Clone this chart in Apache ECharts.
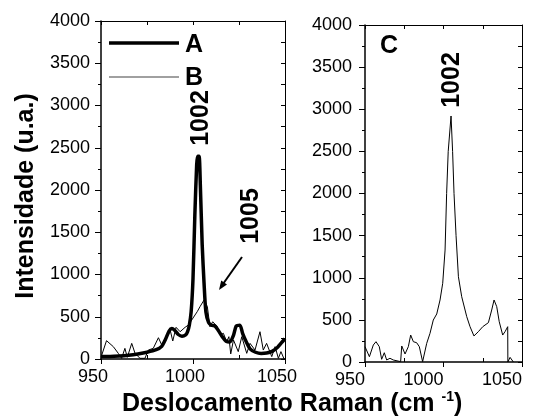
<!DOCTYPE html>
<html>
<head>
<meta charset="utf-8">
<script src="https://cdn.jsdelivr.net/npm/echarts@6/dist/echarts.min.js"></script>
<style>
  html, body { margin: 0; padding: 0; background: #fff; }
  #chart { width: 542px; height: 419px; }
</style>
</head>
<body>
<div id="chart"></div>
<script>
// Raman shift (cm-1) and intensity
const shiftA = [950, 955, 960, 965, 970, 975, 980, 983, 985, 987, 988.5, 990, 992, 994, 996,
  997, 998, 999, 1000, 1001, 1002, 1002.5, 1003.3, 1004, 1005, 1006, 1007, 1008.5,
  1010, 1012, 1014, 1016, 1018, 1020, 1022, 1023.5, 1025.5, 1027, 1029, 1031, 1034,
  1037, 1040, 1043, 1046, 1048, 1050]
const intensA = [30, 30, 35, 45, 60, 80, 110, 150, 230, 330, 360, 340, 290, 270, 285,
  320, 400, 560, 950, 1700, 2300, 2400, 2400, 2050, 1350, 900, 560, 430,
  400, 390, 330, 260, 210, 200, 280, 390, 400, 300, 200, 120, 80,
  65, 70, 90, 140, 190, 240]

const shiftB = [950, 953, 956.7, 959.4, 961.2, 963, 964.3, 966.7, 968.5, 971.2, 973.9, 975.7,
  978.4, 981.2, 983, 984.8, 987.5, 989, 990.8, 993, 995.7, 997.5, 999.3, 1001.1, 1002.3,
  1003.8, 1006, 1007.8, 1009.2, 1010.7, 1012.9, 1014.7, 1016.5, 1018.3, 1019.5, 1020.5,
  1022, 1024.6, 1026.5, 1029.2, 1031, 1033.7, 1036.4, 1038.2, 1040, 1042.8, 1044.6,
  1046.4, 1047.8, 1049.5, 1050]
const intensB = [20, 217, 146, 67, 8, 126, 20, 185, 67, 8, 8, 106,
  126, 252, 166, 245, 351, 213, 375, 323, 375, 402, 461, 521, 560,
  619, 698, 619, 382, 441, 390, 284, 304, 205, 264, 60,
  225, 87, 264, 67, 185, 106, 323, 106, 185, 28, 146,
  8, 87, 0, 0]

const shiftC = [950, 952.8, 955.3, 957, 959.1, 960.6, 962.3, 963.8, 965.9, 968, 969.1, 972.7,
  973.4, 975.5, 977.6, 979.1, 980.8, 982.9, 984.6, 986.7, 989.3, 991.4, 993.5, 995.7,
  997.8, 999.5, 1001, 1002, 1003, 1004.8, 1005.8, 1006.7, 1008, 1009.5, 1011.6, 1014.8,
  1016.9, 1019.4, 1022.2, 1025, 1028.6, 1030.7, 1032.2, 1033.9, 1035.5, 1037.7, 1039.2,
  1040.9, 1041, 1042.4, 1044.5]
const intensC = [182, 63, 202, 241, 182, 32, 110, 24, 44, 24, 4, 4,
  190, 95, 182, 320, 241, 229, 182, 4, 221, 340, 498, 570,
  736, 934, 1329, 2000, 2500, 2920, 2500, 2000, 1500, 1012, 775, 538,
  419, 309, 360, 419, 467, 617, 736, 657, 478, 320, 360,
  419, 0, 55, 0]

const FONT = 'Liberation Sans'
const plain = v => String(v)

function zip(xs, ys) {
  return xs.map((x, i) => [x, ys[i]])
}

// bottom axis with labels + major ticks outside
function bottomAxis(grid, labelPad, align) {
  return {
    type: 'value', gridIndex: grid, position: 'bottom',
    min: 950, max: 1050, interval: 50,
    axisLine: { lineStyle: { color: '#000', width: 1.5 } },
    axisTick: { inside: false, length: 5, lineStyle: { color: '#000' } },
    axisLabel: { color: '#000', fontFamily: FONT, fontSize: 18, margin: 9, padding: labelPad, align: align, formatter: plain },
    splitLine: { show: false }
  }
}
// minor ticks inside on the bottom
function bottomMinor(grid) {
  return {
    type: 'value', gridIndex: grid, position: 'bottom',
    min: 950, max: 1050, interval: 25,
    axisLine: { show: false },
    axisTick: { inside: true, length: 4, customValues: [975, 1025], lineStyle: { color: '#000' } },
    axisLabel: { show: false },
    splitLine: { show: false }
  }
}
function topAxis(grid) {
  return {
    type: 'value', gridIndex: grid, position: 'top',
    min: 950, max: 1050, interval: 25,
    axisLine: { lineStyle: { color: '#000', width: 1 } },
    axisTick: { inside: true, length: 4, lineStyle: { color: '#000' } },
    axisLabel: { show: false },
    splitLine: { show: false }
  }
}
function leftAxis(grid, margin) {
  return {
    type: 'value', gridIndex: grid, position: 'left',
    min: 0, max: 4000, interval: 500,
    axisLine: { show: true, lineStyle: { color: '#000', width: 1.5 } },
    axisTick: { show: true, inside: false, length: 6, lineStyle: { color: '#000' } },
    minorTick: { show: true, splitNumber: 2, length: 3, lineStyle: { color: '#000' } },
    axisLabel: { color: '#000', fontFamily: FONT, fontSize: 18, margin: margin, formatter: plain },
    splitLine: { show: false }
  }
}
function rightAxis(grid) {
  return {
    type: 'value', gridIndex: grid, position: 'right',
    min: 0, max: 4000, interval: 250,
    axisLine: { show: true, lineStyle: { color: '#000', width: 1 } },
    axisTick: { show: true, inside: true, length: 4, lineStyle: { color: '#000' } },
    axisLabel: { show: false },
    splitLine: { show: false }
  }
}

const chart = echarts.init(document.getElementById('chart'))

const boldText = (text, x, y, size, rot) => ({
  type: 'text', x: x, y: y, rotation: rot || 0,
  style: {
    text: text, fill: '#000', font: 'bold ' + size + 'px ' + FONT,
    align: 'center', verticalAlign: 'middle'
  }
})

chart.setOption({
  animation: false,
  backgroundColor: '#fff',
  grid: [
    { left: 101, top: 21, width: 184, height: 338 },
    { left: 365, top: 25, width: 157, height: 337 }
  ],
  xAxis: [
    bottomAxis(0, [0, 16, 0, 0], 'center'),
    bottomMinor(0),
    topAxis(0),
    bottomAxis(1, [0, 0, 0, 0], 'right'),
    bottomMinor(1),
    topAxis(1)
  ],
  yAxis: [
    leftAxis(0, 11),
    rightAxis(0),
    leftAxis(1, 13),
    rightAxis(1)
  ],
  series: [
    {
      name: 'A', type: 'line', xAxisIndex: 0, yAxisIndex: 0,
      data: zip(shiftA, intensA), showSymbol: false, smooth: 0.25,
      lineStyle: { color: '#000', width: 3.5 }
    },
    {
      name: 'B', type: 'line', xAxisIndex: 0, yAxisIndex: 0,
      data: zip(shiftB, intensB), showSymbol: false,
      lineStyle: { color: '#000', width: 1 }
    },
    {
      name: 'C', type: 'line', xAxisIndex: 3, yAxisIndex: 2,
      data: zip(shiftC, intensC), showSymbol: false,
      lineStyle: { color: '#000', width: 1 }
    }
  ],
  graphic: [
    // legend
    { type: 'line', shape: { x1: 109, y1: 43, x2: 179, y2: 43 }, style: { stroke: '#000', lineWidth: 3.5 } },
    { type: 'line', shape: { x1: 109, y1: 77, x2: 179, y2: 77 }, style: { stroke: '#808080', lineWidth: 1.5 } },
    { type: 'text', x: 185, y: 45, style: { text: 'A', fill: '#000', font: 'bold 25px ' + FONT, verticalAlign: 'middle' } },
    { type: 'text', x: 185, y: 78, style: { text: 'B', fill: '#000', font: 'bold 25px ' + FONT, verticalAlign: 'middle' } },
    boldText('C', 389, 46, 25),
    // peak labels
    boldText('1002', 201, 118, 25, Math.PI / 2),
    boldText('1005', 251, 216, 25, Math.PI / 2),
    boldText('1002', 452, 80, 25, Math.PI / 2),
    // arrow
    { type: 'line', shape: { x1: 242, y1: 257, x2: 223, y2: 284 }, style: { stroke: '#000', lineWidth: 2 } },
    { type: 'polygon', shape: { points: [[219, 290], [227, 284.6], [221.2, 280.6]] }, style: { fill: '#000' } },
    // axis titles
    boldText('Intensidade (u.a.)', 26, 196, 25, Math.PI / 2),
    {
      type: 'text', x: 122, y: 404,
      style: {
        text: '{a|Deslocamento Raman (cm }{s|-1}{a|)}',
        verticalAlign: 'middle',
        rich: {
          a: { fontFamily: FONT, fontWeight: 'bold', fontSize: 25, fill: '#000', lineHeight: 28 },
          s: { fontFamily: FONT, fontWeight: 'bold', fontSize: 14, fill: '#000', lineHeight: 28, verticalAlign: 'top' }
        }
      }
    }
  ]
})
</script>
</body>
</html>
